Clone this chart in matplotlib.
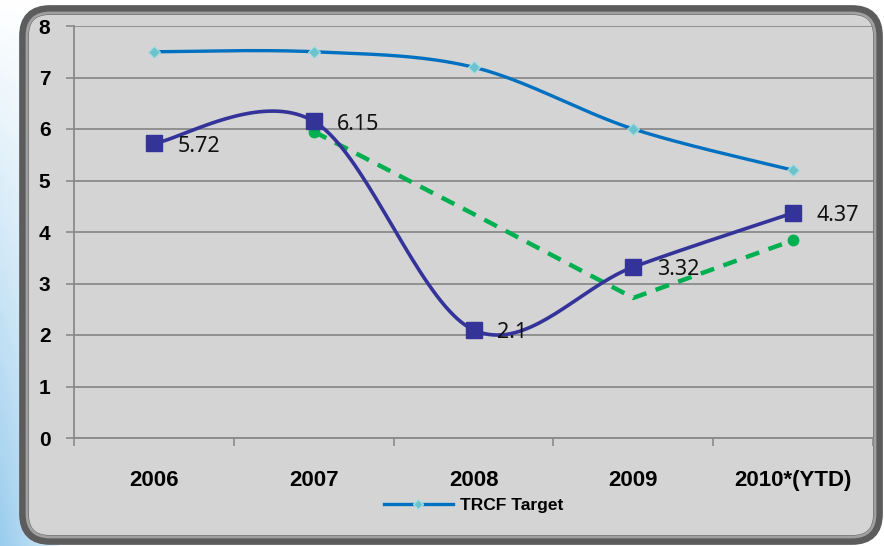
import numpy as np
import matplotlib.pyplot as plt
from matplotlib.patches import FancyBboxPatch
from matplotlib.lines import Line2D

plt.rcParams['font.family'] = ['Noto Sans', 'DejaVu Sans']
BOLD = ['Liberation Sans', 'DejaVu Sans']

# data
years = ['2006', '2007', '2008', '2009', '2010*(YTD)']
target = [7.5, 7.5, 7.2, 6.0, 5.2]
actual = [5.72, 6.15, 2.1, 3.32, 4.37]
trend = [np.nan, 5.95, 4.35, 2.72, 3.84]
actual_labels = ['5.72', '6.15', '2.1', '3.32', '4.37']


#
# smooth a line like the office charts do (catmull-rom through the points)
#
def smooth(xs, ys, n=40):
    xs = np.asarray(xs, float)
    ys = np.asarray(ys, float)
    px = np.concatenate([[xs[0]], xs, [xs[-1]]])
    py = np.concatenate([[ys[0]], ys, [ys[-1]]])
    outx, outy = [], []
    t = np.linspace(0, 1, n)
    h00 = 2*t**3 - 3*t**2 + 1
    h10 = t**3 - 2*t**2 + t
    h01 = -2*t**3 + 3*t**2
    h11 = t**3 - t**2
    for i in range(1, len(px) - 2):
        mx0 = (px[i+1] - px[i-1]) / 2
        mx1 = (px[i+2] - px[i]) / 2
        my0 = (py[i+1] - py[i-1]) / 2
        my1 = (py[i+2] - py[i]) / 2
        outx.extend(h00*px[i] + h10*mx0 + h01*px[i+1] + h11*mx1)
        outy.extend(h00*py[i] + h10*my0 + h01*py[i+1] + h11*my1)
    return np.array(outx), np.array(outy)


fig = plt.figure(figsize=(8.84, 5.46), dpi=100)

# background: light blue fade at the left, rounded grey panel
bg = fig.add_axes([0, 0, 1, 1])
bg.set_xlim(0, 884)
bg.set_ylim(546, 0)
bg.axis('off')
yy, xx = np.mgrid[0:546, 0:884]
fade = np.clip(yy / 546.0, 0, 1) * np.clip(1 - xx / 60.0, 0, 1) ** 0.5
img = np.ones((546, 884, 3))
blue = np.array([0.60, 0.80, 0.93])
img = img * (1 - fade[..., None]) + blue * fade[..., None]
bg.imshow(img, extent=(0, 884, 546, 0), aspect='auto', zorder=0)
outer = FancyBboxPatch((24, 10), 854, 530, boxstyle='round,pad=0,rounding_size=26',
                       facecolor='#d4d4d4', edgecolor='#5c5c5c', linewidth=7, zorder=1)
bg.add_patch(outer)
inner = FancyBboxPatch((27, 13), 848, 524, boxstyle='round,pad=0,rounding_size=23',
                       facecolor='none', edgecolor='#a0a0a0', linewidth=2, zorder=2)
bg.add_patch(inner)

ax = fig.add_axes([74/884, 1 - 438/546, 799/884, 412/546])
ax.set_facecolor('none')
x = np.arange(len(years))

# target line
sx, sy = smooth(x, target)
ax.plot(sx, sy, color='#0070c0', lw=2.4, zorder=3)
ax.plot(x, target, ls='none', marker='D', ms=6.5, color='#6cc3cb',
        markeredgecolor='#a8dde2', markeredgewidth=0.8, zorder=4)

# trend (dashed green)
ax.plot(x, trend, color='#00b050', lw=3.2, ls=(0, (3.2, 2.2)), zorder=3)
ax.plot(x[[1, 4]], [trend[1], trend[4]], ls='none', marker='o', ms=7.5,
        color='#00b050', zorder=4)

# actual (dark blue smooth)
sx, sy = smooth(x, actual)
ax.plot(sx, sy, color='#333399', lw=2.6, zorder=5)
ax.plot(x, actual, ls='none', marker='s', ms=11, color='#333399', zorder=6)
for xi, v, lab in zip(x, actual, actual_labels):
    ax.annotate(lab, (xi, v), xytext=(17, -2), textcoords='offset points',
                ha='left', va='center', fontsize=15.5, color='#111111', zorder=7)

ax.set_xlim(-0.5, 4.5)
ax.set_ylim(0, 8)
ax.set_yticks(range(0, 9))
ax.set_yticklabels([str(v) for v in range(0, 9)], fontsize=15, fontweight='bold',
                   family=BOLD)
ax.grid(axis='y', color='#8a8a8a', lw=1.3, zorder=1)
ax.set_axisbelow(True)

ax.set_xticks(np.arange(-0.5, 5.0, 1.0))
ax.set_xticklabels([])
ax.set_xticks(x, minor=True)
ax.set_xticklabels(years, minor=True, fontsize=16, fontweight='bold', family=BOLD)
ax.tick_params(axis='x', which='major', length=6, color='#8a8a8a', width=1.2)
ax.tick_params(axis='x', which='minor', length=0, pad=23)
ax.tick_params(axis='y', length=6, color='#8a8a8a', width=1.2, pad=11)

for s in ['top', 'right']:
    ax.spines[s].set_visible(False)
for s in ['left', 'bottom']:
    ax.spines[s].set_color('#8a8a8a')
    ax.spines[s].set_linewidth(1.3)

# legend with the target only
h = Line2D([], [], color='#0070c0', lw=2.4, marker='D', ms=5, markerfacecolor='#6cc3cb',
           markeredgecolor='#a8dde2')
leg = ax.legend([h], ['TRCF Target'], loc='center', bbox_to_anchor=(0.5, -0.163),
                frameon=False, prop={'weight': 'bold', 'size': 12.5, 'family': BOLD},
                handlelength=4.0, handletextpad=0.4)

fig.savefig('out.png', dpi=100)
